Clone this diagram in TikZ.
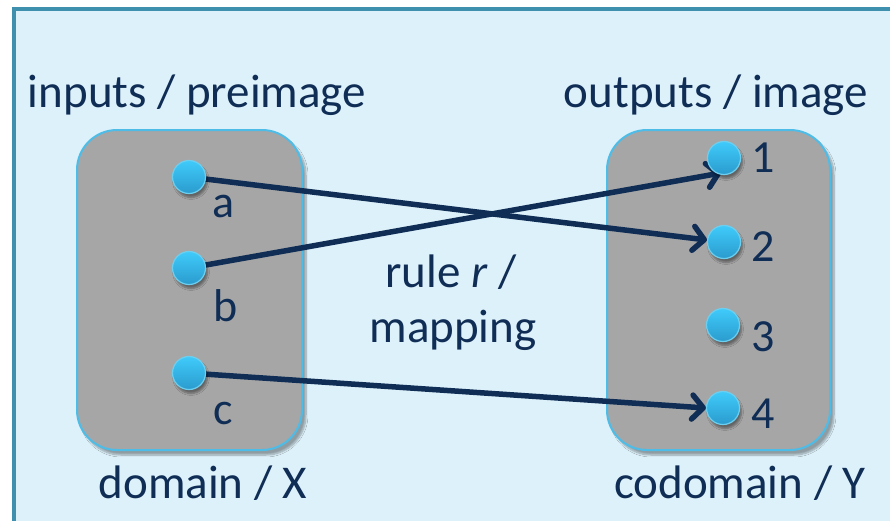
\documentclass[tikz,border=0pt]{standalone}
\usepackage{fontspec}
\setmainfont{Carlito}
\usetikzlibrary{arrows.meta,shadows,shadows.blur}
\definecolor{frameline}{HTML}{3F8FAE}
\definecolor{framefill}{HTML}{DDF1FA}
\definecolor{setfill}{HTML}{A6A6A6}
\definecolor{setline}{HTML}{4DBDE8}
\definecolor{ink}{HTML}{0F2D55}
\definecolor{dotlight}{HTML}{3FCBFB}
\definecolor{dotdark}{HTML}{2A9BCD}
\definecolor{dotrim}{HTML}{6CCFF0}
\tikzset{
  setbox/.style={draw=setline, line width=2pt, fill=setfill, rounded corners=40pt,
    blur shadow={shadow xshift=4pt, shadow yshift=-5pt, shadow blur steps=8, shadow opacity=35}},
  elem/.style={circle, minimum size=33pt, inner sep=0pt, draw=dotrim, line width=1.2pt,
    top color=dotlight, bottom color=dotdark,
    blur shadow={shadow xshift=2pt, shadow yshift=-4pt, shadow blur steps=5, shadow opacity=40}},
  txt/.style={text=ink, font=\fontsize{47}{56}\selectfont, inner sep=0pt, anchor=base},
  lbl/.style={text=ink, font=\fontsize{46}{55}\selectfont, inner sep=0pt, anchor=base},
  maparrow/.style={draw=ink, line width=5.5pt, line cap=round,
    -{Straight Barb[length=11pt, width=24pt, line cap=round, line join=round]}}
}
\begin{document}
\begin{tikzpicture}[x=1pt, y=-1pt]
\useasboundingbox (0,0) rectangle (890,520);
\clip (0,0) rectangle (890,520);
\fill[white] (0,0) rectangle (890,520);
% outer panel
\draw[frameline, line width=4.5pt, fill=framefill] (14,9) rectangle (905,540);

% domain and codomain sets
\path[setbox] (77,130) rectangle (302,450);
\path[setbox] (607,130) rectangle (830,450);

% headings
\node[txt] (hin) at (197,107) {inputs / preimage};
\node[txt] (hout) at (716,107) {outputs / image};
\node[txt] (hdom) at (203,498) {domain / X};
\node[txt] (hcod) at (740,498) {codomain / Y};
\node[txt] (rule1) at (451,287) {rule \textit{r} /};
\node[txt] (rule2) at (453,342) {mapping};

% elements
\coordinate (pa) at (189,177);
\coordinate (pb) at (189,268);
\coordinate (pc) at (189,373);
\coordinate (p1) at (724,158);
\coordinate (p2) at (724,242);
\coordinate (p3) at (723,325);
\coordinate (p4) at (723,408);

% element names
\node[lbl] (la) at (224,217) {a};
\node[lbl] (lb) at (226,321) {b};
\node[lbl] (lc) at (223,424) {c};
\node[lbl] (l1) at (763,172) {1};
\node[lbl] (l2) at (763,261) {2};
\node[lbl] (l3) at (763,351) {3};
\node[lbl] (l4) at (763,428) {4};

% mapping arrows (page shifts: positive yshift moves up)
\draw[maparrow] (pa) -- ([xshift=-17pt,yshift=2pt]p2);
\draw[maparrow] (pb) -- ([xshift=-3pt,yshift=-15pt]p1);
\draw[maparrow] (pc) -- ([xshift=-17pt]p4);

% dots on top of the arrows
\node[elem] (a) at (pa) {};
\node[elem] (b) at (pb) {};
\node[elem] (c) at (pc) {};
\node[elem] (n1) at (p1) {};
\node[elem] (n2) at (p2) {};
\node[elem] (n3) at (p3) {};
\node[elem] (n4) at (p4) {};
\end{tikzpicture}
\end{document}
